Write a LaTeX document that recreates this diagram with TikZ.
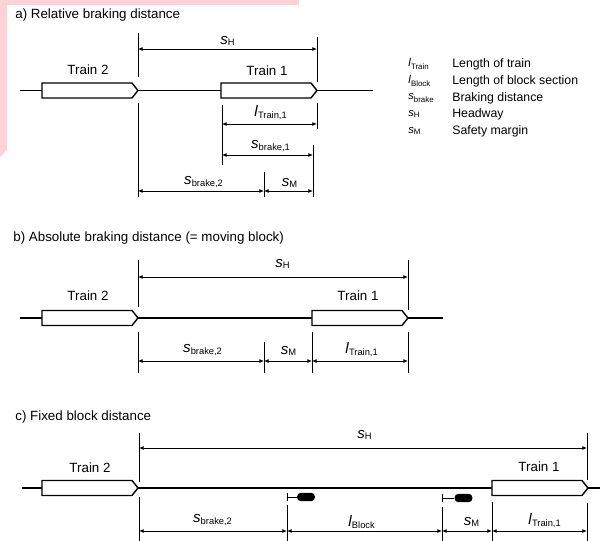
\documentclass[tikz,border=0pt]{standalone}
\usepackage{fontspec}
\setmainfont{Liberation Sans}
\usetikzlibrary{arrows.meta}
\definecolor{margpink}{RGB}{255,210,215}
\newcommand{\sym}[2]{{\fontsize{8.6}{9}\selectfont\textit{#1}}\textsubscript{#2}}
\newcommand{\legsy}[2]{\textit{#1}\textsubscript{#2}}
\tikzset{
  lbl/.style={font=\fontsize{7.6}{9}\selectfont,inner sep=0pt},
  legsym/.style={font=\fontsize{6.4}{7}\selectfont,inner sep=0pt,anchor=west},
  legtxt/.style={font=\fontsize{7}{8}\selectfont,inner sep=0pt,anchor=west},
  track/.style={line width=0.6pt},
  trainbox/.style={draw,line width=0.8pt,fill=white,line join=miter},
  tick/.style={line width=0.55pt},
  dim/.style={<->,line width=0.5pt},
  signal/.style={fill=black,rounded corners=2.3pt,minimum width=0.36cm,minimum height=0.17cm,inner sep=0pt}
}
% train body: left x, track y
\newcommand{\trainat}[2]{\draw[trainbox] (#1,#2) ++(0,-7.5) -- ++(90,0) -- ++(6,7.5) -- ++(-6,7.5) -- ++(-90,0) -- cycle;}

\begin{document}
\begin{tikzpicture}[x=0.02cm,y=-0.02cm,>={Latex[length=2.6pt,width=2.2pt]}]
\useasboundingbox (0,0) rectangle (600,541);
\fill[margpink] (0,0) -- (299,0) -- (299,5) -- (7,5) -- (7,150) -- (0,157) -- cycle;

% a) relative braking distance
\node[lbl,anchor=west] (ta) at (15,15) {a) Relative braking distance};
\draw[track] (20,90.5) -- (373,90.5);
\trainat{42}{90.5}
\trainat{221}{90.5}
\node[lbl] (a2) at (88,70) {Train 2};
\node[lbl] (a1) at (267,71) {Train 1};
\foreach \x/\ya/\yb in {138/33/77, 317/37/82, 138/103/197, 222/105/165, 317/103/129, 313/145/197, 264/172/197}
  \draw[tick] (\x,\ya) -- (\x,\yb);
\coordinate (aH1) at (138,49); \coordinate (aH2) at (317,49);
\coordinate (aT1) at (222,124); \coordinate (aT2) at (317,124);
\coordinate (aB1) at (222,155); \coordinate (aB2) at (313,155);
\coordinate (aC1) at (138,191); \coordinate (aC2) at (264,191); \coordinate (aC3) at (313,191);
\draw[dim] (aH1) -- (aH2);
\draw[dim] (aT1) -- (aT2);
\draw[dim] (aB1) -- (aB2);
\draw[dim] (aC1) -- (aC2);
\draw[dim] (aC2) -- (aC3);
\node[lbl] (aHl) at (228,41) {\sym{s}{H}};
\node[lbl] (aTl) at (271,113) {\sym{l}{Train,1}};
\node[lbl] (aBl) at (271,146) {\sym{s}{brake,1}};
\node[lbl] (aCl) at (204,182) {\sym{s}{brake,2}};
\node[lbl] (aMl) at (290,183) {\sym{s}{M}};

% legend
\foreach \s/\b/\t/\y in {l/Train/Length of train/64, l/Block/Length of block section/81,
    s/brake/Braking distance/98, s/H/Headway/114, s/M/Safety margin/131} {
  \node[legsym] (k\b) at (408,\y) {\legsy{\s}{\b}};
  \node[legtxt] (d\b) at (452,\y) {\t};
}

% b) absolute braking distance
\node[lbl,anchor=west] (tb) at (13,238) {b) Absolute braking distance (= moving block)};
\draw[track] (20,318) -- (443,318);
\trainat{42}{318}
\trainat{312}{318}
\node[lbl] (b2) at (88,296) {Train 2};
\node[lbl] (b1) at (358,296) {Train 1};
\foreach \x/\ya/\yb in {138/260/307, 408/260/310, 138/332/373, 264/342/373, 312/332/373, 408/332/373}
  \draw[tick] (\x,\ya) -- (\x,\yb);
\coordinate (bH1) at (138,277); \coordinate (bH2) at (408,277);
\coordinate (bC1) at (138,361); \coordinate (bC2) at (264,361);
\coordinate (bC3) at (312,361); \coordinate (bC4) at (408,361);
\draw[dim] (bH1) -- (bH2);
\draw[dim] (bC1) -- (bC2);
\draw[dim] (bC2) -- (bC3);
\draw[dim] (bC3) -- (bC4);
\node[lbl] (bHl) at (283,264) {\sym{s}{H}};
\node[lbl] (bCl) at (203,350) {\sym{s}{brake,2}};
\node[lbl] (bMl) at (289,351) {\sym{s}{M}};
\node[lbl] (bTl) at (362,350) {\sym{l}{Train,1}};

% c) fixed block distance
\node[lbl,anchor=west] (tc) at (15,417) {c) Fixed block distance};
\draw[track] (22,488) -- (600,488);
\trainat{42}{488}
\trainat{492}{488}
\node[lbl] (c2) at (90,468) {Train 2};
\node[lbl] (c1) at (539,467) {Train 1};
\node[signal] (sig1) at (306,497) {};
\node[signal] (sig2) at (463.5,498) {};
\coordinate (p1) at (287,497); \coordinate (p2) at (442,498);
\draw[tick] (287,493) -- (287,501);
\draw[tick] (442,494) -- (442,502);
\draw[tick] (p1) -- (sig1.west);
\draw[tick] (p2) -- (sig2.west);
\foreach \x/\ya/\yb in {139/433/482, 587/433/480, 139/497/541, 287/505/541, 442/507/541, 492/502/541, 587/503/541}
  \draw[tick] (\x,\ya) -- (\x,\yb);
\coordinate (cH1) at (139,448); \coordinate (cH2) at (587,448);
\coordinate (cC1) at (139,531); \coordinate (cC2) at (287,531); \coordinate (cC3) at (442,531);
\coordinate (cC4) at (492,531); \coordinate (cC5) at (587,531);
\draw[dim] (cH1) -- (cH2);
\draw[dim] (cC1) -- (cC2);
\draw[dim] (cC2) -- (cC3);
\draw[dim] (cC3) -- (cC4);
\draw[dim] (cC4) -- (cC5);
\node[lbl] (cHl) at (365,435) {\sym{s}{H}};
\node[lbl] (cCl) at (213,520) {\sym{s}{brake,2}};
\node[lbl] (cBl) at (362,522) {\sym{l}{Block}};
\node[lbl] (cMl) at (472,522) {\sym{s}{M}};
\node[lbl] (cTl) at (545,521) {\sym{l}{Train,1}};
\end{tikzpicture}
\end{document}
